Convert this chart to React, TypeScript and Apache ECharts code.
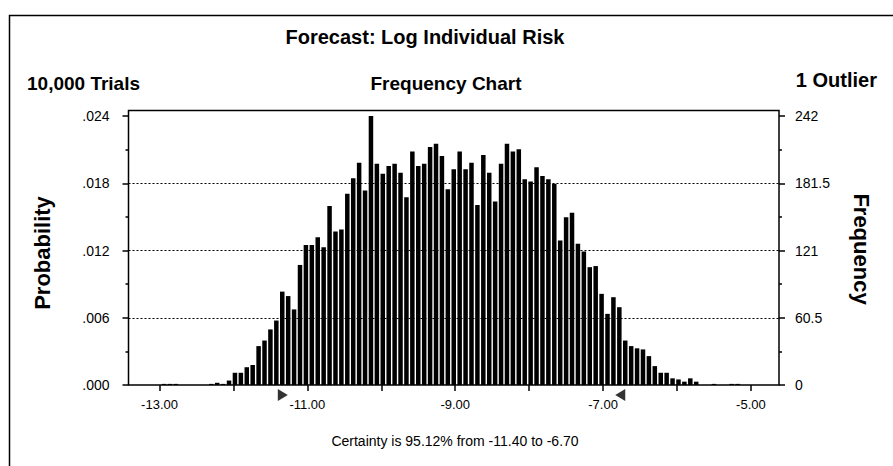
import { useEffect, useRef } from 'react';
import * as echarts from 'echarts';

// ---- data ----
const binStart = -12.94; // centre of the first listed cell
const binWidth = 0.08;
const counts = [
  1, 1, 1, 0, 0, 0, 0, 0,
  1, 2, 1, 4, 11, 11, 16, 18,
  35, 40, 50, 58, 84, 80, 68, 108, 126, 126,
  133, 124, 161, 138, 140, 172, 186, 200, 175, 242,
  199, 190, 197, 199, 191, 169, 210, 197, 199, 214,
  217, 206, 176, 194, 210, 194, 200, 162, 207, 191,
  165, 199, 217, 210, 212, 185, 183, 196, 188, 185,
  181, 130, 151, 155, 127, 120, 106, 107, 82, 64,
  79, 70, 40, 35, 33, 32, 26, 17, 11, 11,
  6, 5, 3, 6, 3, 0, 0, 1, 0, 0, 1, 1,
];
const freqTicks = [0, 60.5, 121, 181.5, 242];
const probLabels = ['.000', '.006', '.012', '.018', '.024'];
const xRange = [-13.42, -4.62];
const xTickValues = [-13, -12, -11, -10, -9, -8, -7, -6, -5];
const xLabelValues = [-13, -11, -9, -7, -5];
const certaintyBounds = [-11.4, -6.7];
const certaintyPct = '95.12%';

const FONT = "'Liberation Sans', Arial, Helvetica, sans-serif";

export default function App() {
  const ref = useRef<HTMLDivElement>(null);
  useEffect(() => {
    const chart = echarts.init(ref.current!, null, { renderer: 'svg' });
    const barData = counts.map((c, i) => [+(binStart + i * binWidth).toFixed(2), c]);
    const yBase = {
      type: 'value',
      min: freqTicks[0],
      max: freqTicks[freqTicks.length - 1],
      interval: freqTicks[1] - freqTicks[0],
      axisLine: { show: false },
      axisTick: { show: true, length: 6, lineStyle: { color: '#000', width: 1.5 } },
      minorTick: { show: true, splitNumber: 2, length: 3, lineStyle: { color: '#000', width: 1.5 } },
      minorSplitLine: { show: false },
    };
    const option = {
      animation: false,
      backgroundColor: '#fff',
      textStyle: { fontFamily: FONT },
      grid: { left: 128.5, right: 114, top: 116, bottom: 81 },
      xAxis: {
        type: 'value',
        min: xRange[0],
        max: xRange[1],
        axisLine: { show: false },
        splitLine: { show: false },
        axisTick: {
          show: true,
          length: 6,
          customValues: xTickValues,
          lineStyle: { color: '#000', width: 1.5 },
        },
        axisLabel: {
          customValues: xLabelValues,
          formatter: (v: number) => v.toFixed(2),
          color: '#000',
          fontSize: 13,
          fontFamily: FONT,
          margin: 13,
        },
      },
      yAxis: [
        {
          ...yBase,
          position: 'left',
          splitLine: {
            show: true,
            showMinLine: false,
            showMaxLine: false,
            lineStyle: { color: '#000', type: [2, 2], width: 1.2 },
          },
          axisLabel: {
            formatter: (v: number) => probLabels[Math.round(v / freqTicks[1])],
            color: '#000',
            fontSize: 14,
            fontFamily: FONT,
            margin: 19,
          },
        },
        {
          ...yBase,
          position: 'right',
          splitLine: { show: false },
          axisLabel: {
            formatter: (v: number) => String(freqTicks[Math.round(v / freqTicks[1])]),
            color: '#000',
            fontSize: 14,
            fontFamily: FONT,
            margin: 16,
          },
        },
      ],
      series: [
        {
          type: 'bar',
          xAxisIndex: 0,
          yAxisIndex: 1,
          data: barData,
          barWidth: 4.5,
          itemStyle: { color: '#000' },
          emphasis: { disabled: true },
        },
        {
          type: 'scatter',
          xAxisIndex: 0,
          yAxisIndex: 1,
          clip: false,
          symbolSize: [10, 12],
          itemStyle: { color: '#000' },
          data: [
            { value: [certaintyBounds[0], 0], symbol: 'path://M0,0L10,6L0,12Z', symbolOffset: [5, 10] },
            { value: [certaintyBounds[1], 0], symbol: 'path://M10,0L0,6L10,12Z', symbolOffset: [-5, 10] },
          ],
          emphasis: { disabled: true },
        },
      ],
      graphic: [
        {
          type: 'polyline',
          shape: { points: [[9.5, 466], [9.5, 15.5], [893, 15.5]] },
          style: { stroke: '#000', lineWidth: 1.5, fill: 'none' },
          silent: true,
        },
        {
          type: 'rect',
          shape: { x: 128.5, y: 110.5, width: 650.5, height: 274.5 },
          style: { stroke: '#000', lineWidth: 1.5, fill: 'none' },
          silent: true,
          z: 10,
        },
        {
          type: 'text', x: 425, y: 37,
          style: { text: 'Forecast: Log Individual Risk', font: `bold 20px ${FONT}`, fill: '#000', align: 'center', verticalAlign: 'middle' },
        },
        {
          type: 'text', x: 446, y: 83,
          style: { text: 'Frequency Chart', font: `bold 19px ${FONT}`, fill: '#000', align: 'center', verticalAlign: 'middle' },
        },
        {
          type: 'text', x: 27, y: 83,
          style: { text: '10,000 Trials', font: `bold 19px ${FONT}`, fill: '#000', align: 'left', verticalAlign: 'middle' },
        },
        {
          type: 'text', x: 877, y: 80,
          style: { text: '1 Outlier', font: `bold 20px ${FONT}`, fill: '#000', align: 'right', verticalAlign: 'middle' },
        },
        {
          type: 'text', x: 42, y: 253, rotation: Math.PI / 2,
          style: { text: 'Probability', font: `bold 22px ${FONT}`, fill: '#000', align: 'center', verticalAlign: 'middle' },
        },
        {
          type: 'text', x: 861, y: 249, rotation: -Math.PI / 2,
          style: { text: 'Frequency', font: `bold 22px ${FONT}`, fill: '#000', align: 'center', verticalAlign: 'middle' },
        },
        {
          type: 'text', x: 455, y: 441,
          style: {
            text: `Certainty is ${certaintyPct} from ${certaintyBounds[0].toFixed(2)} to ${certaintyBounds[1].toFixed(2)}`,
            font: `14px ${FONT}`, fill: '#000', align: 'center', verticalAlign: 'middle',
          },
        },
      ],
    };
    chart.setOption(option as any);
    return () => chart.dispose();
  }, []);
  return (
    <div
      ref={ref}
      style={{ position: 'fixed', left: 0, top: 0, width: 893, height: 466, background: '#fff' }}
    />
  );
}
